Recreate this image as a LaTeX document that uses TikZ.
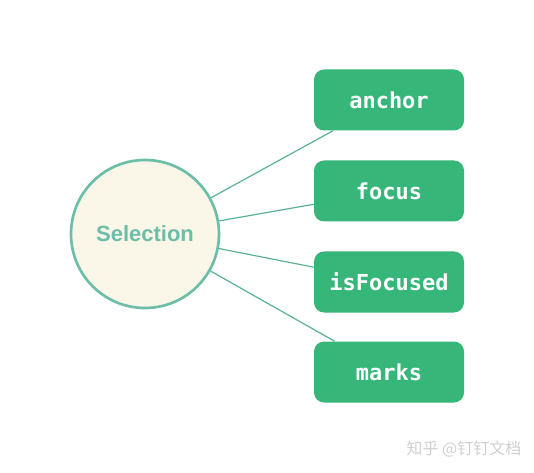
\documentclass[tikz,border=0pt]{standalone}
\usepackage{fontspec}
\setmainfont{Liberation Sans}
\setmonofont{DejaVu Sans Mono}
\newfontfamily\cjkfont{Noto Sans CJK SC}
\usepackage{tikz}
\definecolor{boxgreen}{HTML}{36B679}
\definecolor{rimteal}{HTML}{6CBEA8}
\definecolor{cream}{HTML}{FAF6E8}
\definecolor{linkgreen}{HTML}{5AB293}
\definecolor{markgray}{HTML}{CFCFCF}

\begin{document}
\begin{tikzpicture}[x=0.75pt, y=-0.75pt,
    field/.style={fill=boxgreen, rounded corners=7.5pt, minimum width=112.5pt,
        minimum height=45.75pt, inner sep=0pt, text=white,
        font=\ttfamily\bfseries\fontsize{16.5}{16.5}\selectfont},
    link/.style={linkgreen, line width=0.9pt}]
    \useasboundingbox (0,0) rectangle (534,473);
    \node[circle, draw=rimteal, line width=2pt, fill=cream, minimum size=111pt,
        text=rimteal, font=\bfseries\fontsize{16.5}{16.5}\selectfont] (sel) at (145,234) {Selection};
    \node[field] (anchor)    at (389,100) {anchor};
    \node[field] (focus)     at (389,191) {focus};
    \node[field] (isfocused) at (389,282) {isFocused};
    \node[field] (marks)     at (389,372) {marks};
    \draw[link] (sel) -- (anchor);
    \draw[link] (sel) -- (focus);
    \draw[link] (sel) -- (isfocused);
    \draw[link] (sel) -- (marks);
    \node[markgray, font=\cjkfont\fontsize{12}{12}\selectfont] (mark) at (464,449) {知乎 @钉钉文档};
\end{tikzpicture}
\end{document}
